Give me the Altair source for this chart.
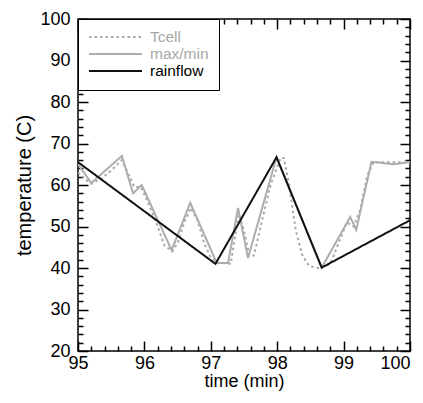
import altair as alt
import pandas as pd

# ---- data ----
tcell_t = [95.0, 95.1, 95.2, 95.35, 95.5, 95.66, 95.75, 95.85, 95.95, 96.05, 96.2, 96.3, 96.42, 96.5,
           96.6, 96.7, 96.8, 96.9, 97.0, 97.1, 97.3, 97.36, 97.42, 97.5, 97.58, 97.65, 97.75, 97.9,
           98.05, 98.1, 98.18, 98.28, 98.38, 98.48, 98.6, 98.67, 98.8, 98.95, 99.05, 99.15, 99.25,
           99.35, 99.45, 99.7, 100.0]
tcell_T = [63.0, 61.5, 60.3, 61.5, 63.5, 66.0, 63.0, 59.5, 59.5, 56.0, 50.0, 45.5, 44.0, 46.0,
           51.0, 54.5, 51.5, 46.0, 42.5, 41.3, 41.0, 47.0, 53.0, 49.0, 43.0, 43.0, 50.0, 60.0,
           66.5, 66.5, 60.0, 49.0, 43.0, 40.5, 40.0, 40.1, 41.0, 47.0, 51.0, 50.0, 54.0,
           62.0, 65.5, 65.5, 65.5]

maxmin_t = [95.0, 95.2, 95.66, 95.83, 95.96, 96.41, 96.69, 97.09, 97.26, 97.41, 97.56, 97.99,
            98.67, 99.1, 99.19, 99.42, 99.75, 100.0]
maxmin_T = [65.0, 60.5, 67.0, 58.0, 60.0, 44.3, 55.7, 41.2, 41.2, 54.5, 42.4, 66.7,
            40.1, 52.3, 49.2, 65.6, 65.0, 65.5]

rain_t = [95.0, 97.07, 97.99, 98.67, 100.0]
rain_T = [65.5, 41.0, 66.7, 40.1, 51.5]

series_names = ["Tcell", "max/min", "rainflow"]
series_colors = ["#a8a8a8", "#adadad", "#111111"]
series_dash = [[2.5, 3], [1, 0], [1, 0]]

x_major = [95, 96, 97, 98, 99, 100]
x_minor = [95.2, 95.4, 95.6, 95.8, 96.2, 96.4, 96.6, 96.8, 97.2, 97.4, 97.6, 97.8,
           98.2, 98.4, 98.6, 98.8, 99.2, 99.4, 99.6, 99.8]
y_major = [20, 30, 40, 50, 60, 70, 80, 90, 100]
y_minor = [22, 24, 26, 28, 32, 34, 36, 38, 42, 44, 46, 48, 52, 54, 56, 58, 62, 64, 66, 68,
           72, 74, 76, 78, 82, 84, 86, 88, 92, 94, 96, 98]

rows = []
for n, ts, Ts in [("Tcell", tcell_t, tcell_T), ("max/min", maxmin_t, maxmin_T), ("rainflow", rain_t, rain_T)]:
    for i, (a, b) in enumerate(zip(ts, Ts)):
        rows.append({"series": n, "t": a, "T": b, "i": i})
df = pd.DataFrame(rows)

W = 332
H = 332
FONT = "Liberation Sans"

xs = alt.Scale(domain=[95, 100], nice=False, zero=False)
ys = alt.Scale(domain=[20, 100], nice=False, zero=False)

leg = alt.Legend(
    title=None, orient="top-left", offset=0, padding=10,
    strokeColor="black", fillColor="white",
    symbolType="stroke", symbolSize=2809, symbolStrokeWidth=2, clipHeight=16,
    rowPadding=0, labelOffset=7,
    labelFont=FONT, labelFontSize=15.5,
    labelColor={"expr": "datum.label == 'rainflow' ? '#000000' : '#a8a8a8'"},
)

lines = alt.Chart(df).mark_line(strokeWidth=2, clip=True).encode(
    x=alt.X("t:Q", scale=xs, axis=alt.Axis(values=x_major, tickSize=0, domain=False, grid=False,
                                             labelPadding=3, labelFont=FONT, labelFontSize=18,
                                             labelColor="black", title="time (min)",
                                             labelAlign={"expr": "datum.value == 100 ? 'right' : 'center'"},
                                             titleFont=FONT, titleFontSize=18, titleFontWeight="normal",
                                             titleColor="black", titlePadding=0, labelFlush=False)),
    y=alt.Y("T:Q", scale=ys, axis=alt.Axis(values=y_major, tickSize=0, domain=False, grid=False,
                                             labelPadding=8, labelFont=FONT, labelFontSize=18,
                                             labelColor="black", title="temperature (C)",
                                             titleFont=FONT, titleFontSize=20, titleFontWeight="normal",
                                             titleColor="black", titlePadding=5, labelFlush=False)),
    color=alt.Color("series:N", scale=alt.Scale(domain=series_names, range=series_colors), legend=leg),
    strokeDash=alt.StrokeDash("series:N", scale=alt.Scale(domain=series_names, range=series_dash), legend=leg),
    order="i:Q",
)


def tick_layer(xvals, yvals, size, xorient, yorient):
    ax = alt.Axis(values=xvals, tickSize=size, tickWidth=1.5, tickColor="black", labels=False,
                  domain=False, grid=False, title=None, orient=xorient, offset=-W)
    ay = alt.Axis(values=yvals, tickSize=size, tickWidth=1.5, tickColor="black", labels=False,
                  domain=False, grid=False, title=None, orient=yorient, offset=-H)
    return alt.Chart(df).mark_point(opacity=0).encode(
        x=alt.X("t:Q", scale=xs, axis=ax),
        y=alt.Y("T:Q", scale=ys, axis=ay),
    )


t1 = tick_layer(x_major, y_major, 10, "top", "right")
t2 = tick_layer(x_minor, y_minor, 5, "top", "right")
t3 = tick_layer(x_major, y_major, 10, "bottom", "left")
t4 = tick_layer(x_minor, y_minor, 5, "bottom", "left")

chart = alt.layer(lines, t1, t2, t3, t4).resolve_scale(
    x="independent", y="independent"
).properties(
    width=W, height=H,
    autosize=alt.AutoSizeParams(type="none"),
    padding={"left": 70, "top": 11, "right": 5, "bottom": 44},
    background="white",
).configure_view(stroke="black", strokeWidth=1.5)

chart.save("out.html", embed_options={"renderer": "svg", "actions": False})
